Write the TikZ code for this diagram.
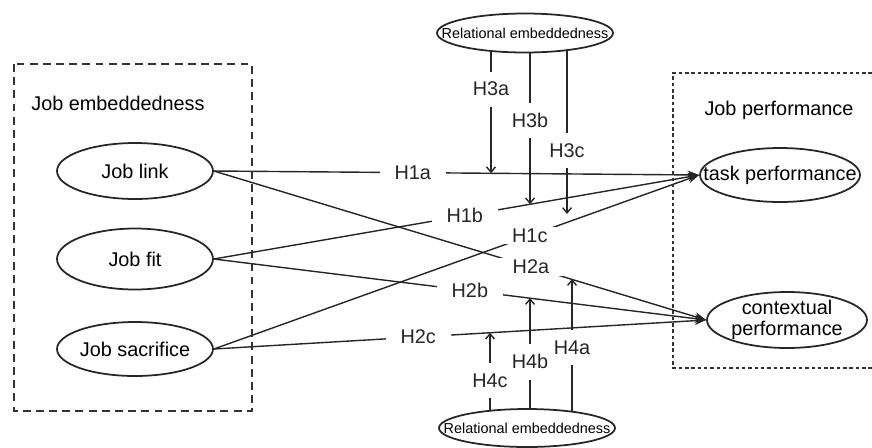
\documentclass[tikz,border=0pt]{standalone}
\usepackage{fontspec}
\setmainfont{Liberation Sans}
\usetikzlibrary{positioning,arrows.meta,shapes.geometric,backgrounds}

\begin{document}
\begin{tikzpicture}[x=0.02cm, y=-0.02cm,
  every node/.style={font=\fontsize{11.3}{12}\selectfont},
  ell/.style={ellipse, draw=black!85, line width=1pt, fill=white, inner sep=0pt,
              minimum width=3.12cm, minimum height=1.12cm},
  perf/.style={ellipse, draw=black!85, line width=1pt, fill=white, inner sep=0pt,
              minimum width=3.2cm, minimum height=1.1cm},
  relb/.style={ellipse, draw=black!85, line width=1pt, fill=white, inner sep=0pt,
              minimum width=3.52cm, minimum height=0.78cm},
  hyp/.style={-{Stealth[length=6.5pt, width=5pt]}, line width=0.8pt, black!85},
  modarr/.style={-{Straight Barb[length=3pt, width=5pt]}, line width=0.8pt, black!85},
  hlab/.style={fill=white, inner xsep=8.5pt, inner ysep=1pt},
  vlab/.style={fill=white, inner xsep=1pt, inner ysep=6pt}
]
  \useasboundingbox (0,0) rectangle (872,447);
  % ---- job embeddedness (left) ----
  \draw[line width=1.1pt, black!80, dash pattern=on 4.5pt off 3pt] (14,64) rectangle (252,411);
  \node (jemb) at (118,103) {Job embeddedness};
  \node[ell, label=center:Job link] (link) at (135,171) {};
  \node[ell, minimum height=1.22cm, label=center:Job fit] (fit) at (135,259) {};
  \node[ell, minimum height=1.08cm, label=center:Job sacrifice] (sacr) at (135,349) {};
  % ---- job performance (right) ----
  \draw[line width=0.8pt, black!80, dash pattern=on 2pt off 1.6pt]
        (872,73) -- (673,73) -- (673,368) -- (872,368);
  \node (jperf) at (779,110) {Job performance};
  \node[perf, minimum height=1.08cm, label=center:task performance] (task) at (780,175) {};
  \node[perf, minimum height=1.12cm,
        label={[align=center, font=\fontsize{11.3}{11.6}\selectfont]center:contextual\\performance}]
        (ctx) at (787,320) {};
  % ---- moderators ----
  \node[relb, label={[font=\fontsize{8.2}{9}\selectfont]center:Relational embeddedness}]
        (toprel) at (525,33) {};
  \node[relb, minimum height=0.76cm,
        label={[font=\fontsize{8.2}{9}\selectfont]center:Relational embeddedness}]
        (botrel) at (527,428) {};
  \coordinate (t3a) at (491,173.3);
  \coordinate (t3b) at (530,204.3);
  \coordinate (t3c) at (567,214);
  \coordinate (t4a) at (572,279);
  \coordinate (t4b) at (530,298);
  \coordinate (t4c) at (490,332.7);
  % ---- hypotheses ----
  \begin{scope}[on background layer]
    \draw[hyp] (link.east) -- node[hlab, pos=0.41] (h1a) {H1a} (task.west);
    \draw[hyp] (fit.east)  -- node[hlab, pos=0.517] (h1b) {H1b} (task.west);
    \draw[hyp] (sacr.east) -- node[hlab, pos=0.651] (h1c) {H1c} (task.west);
    \draw[hyp] (link.east) -- node[hlab, pos=0.644] (h2a) {H2a} (ctx.west);
    \draw[hyp] (fit.east)  -- node[hlab, pos=0.52] (h2b) {H2b} (ctx.west);
    \draw[hyp] (sacr.east) -- node[hlab, pos=0.415] (h2c) {H2c} (ctx.west);
    \draw[modarr] (toprel.center -| t3a) -- node[vlab, pos=0.40] (h3a) {H3a} (t3a);
    \draw[modarr] (toprel.center -| t3b) -- node[vlab, pos=0.51] (h3b) {H3b} (t3b);
    \draw[modarr] (toprel.center -| t3c) -- node[vlab, pos=0.65] (h3c) {H3c} (t3c);
    \draw[modarr] (botrel.center -| t4a) -- node[vlab, pos=0.54] (h4a) {H4a} (t4a);
    \draw[modarr] (botrel.center -| t4b) -- node[vlab, pos=0.51] (h4b) {H4b} (t4b);
    \draw[modarr] (botrel.center -| t4c) -- node[vlab, pos=0.50] (h4c) {H4c} (t4c);
  \end{scope}
\end{tikzpicture}
\end{document}
